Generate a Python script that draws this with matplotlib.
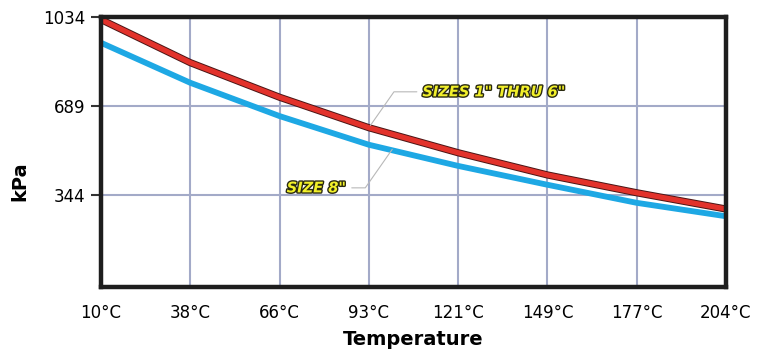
import matplotlib.pyplot as plt
import matplotlib.patheffects as pe

temps = ["10°C", "38°C", "66°C", "93°C", "121°C", "149°C", "177°C", "204°C"]
sizes_1_6 = [1024, 857, 723, 605, 508, 422, 353, 290]
size_8 = [934, 779, 650, 539, 457, 384, 314, 262]
y_ticks = [344, 689, 1034]

fig = plt.figure(figsize=(7.57, 3.53), dpi=100)
ax = fig.add_axes([0.1334, 0.187, 0.8256, 0.765])

x = list(range(len(temps)))
ax.plot(x, size_8, color="#1ea8e4", linewidth=4.2, solid_capstyle="butt", zorder=3)
ax.plot(x, sizes_1_6, color="#e2322b", linewidth=3.8, solid_capstyle="butt", zorder=4,
        path_effects=[pe.Stroke(linewidth=5.2, foreground="#4a1515"), pe.Normal()])

ax.set_xlim(0, len(temps) - 1)
ax.set_ylim(-12, 1034)
ax.set_xticks(x)
ax.set_xticklabels(temps, fontsize=12)
ax.set_yticks(y_ticks)
ax.set_yticklabels([str(v) for v in y_ticks], fontsize=12)
ax.tick_params(axis="x", length=0, pad=12)
ax.tick_params(axis="y", length=7, width=1.5, color="#333333", pad=4)
ax.grid(True, color="#a3aac8", linewidth=1.5, zorder=1)
for s in ax.spines.values():
    s.set_linewidth(3.2)
    s.set_color("#1e1e1e")
    s.set_zorder(5)

ax.set_xlabel("Temperature", fontsize=14, fontweight="bold", labelpad=6)
ax.set_ylabel("kPa", fontsize=14, fontweight="bold")
ax.yaxis.set_label_coords(-0.115, 0.39)

label_fx = [pe.Stroke(linewidth=2, foreground="#2a2a10"), pe.Normal()]
ax.annotate('SIZES 1" THRU 6"', xy=(3.0, 605), xytext=(3.6, 744),
            fontsize=10.5, fontweight="bold", style="italic", color="#f2f02a",
            family=["Liberation Sans Narrow", "DejaVu Sans"], va="center", ha="left",
            path_effects=label_fx, zorder=6,
            arrowprops=dict(arrowstyle="-", color="#b8b8b8", linewidth=0.8,
                            connectionstyle="angle,angleA=0,angleB=55,rad=0"))
ax.annotate('SIZE 8"', xy=(3.28, 530), xytext=(2.08, 372),
            fontsize=10.5, fontweight="bold", style="italic", color="#f2f02a",
            family=["Liberation Sans Narrow", "DejaVu Sans"], va="center", ha="left",
            path_effects=label_fx, zorder=6,
            arrowprops=dict(arrowstyle="-", color="#b8b8b8", linewidth=0.8,
                            connectionstyle="angle,angleA=0,angleB=55,rad=0"))

fig.savefig("out.png", dpi=100)
